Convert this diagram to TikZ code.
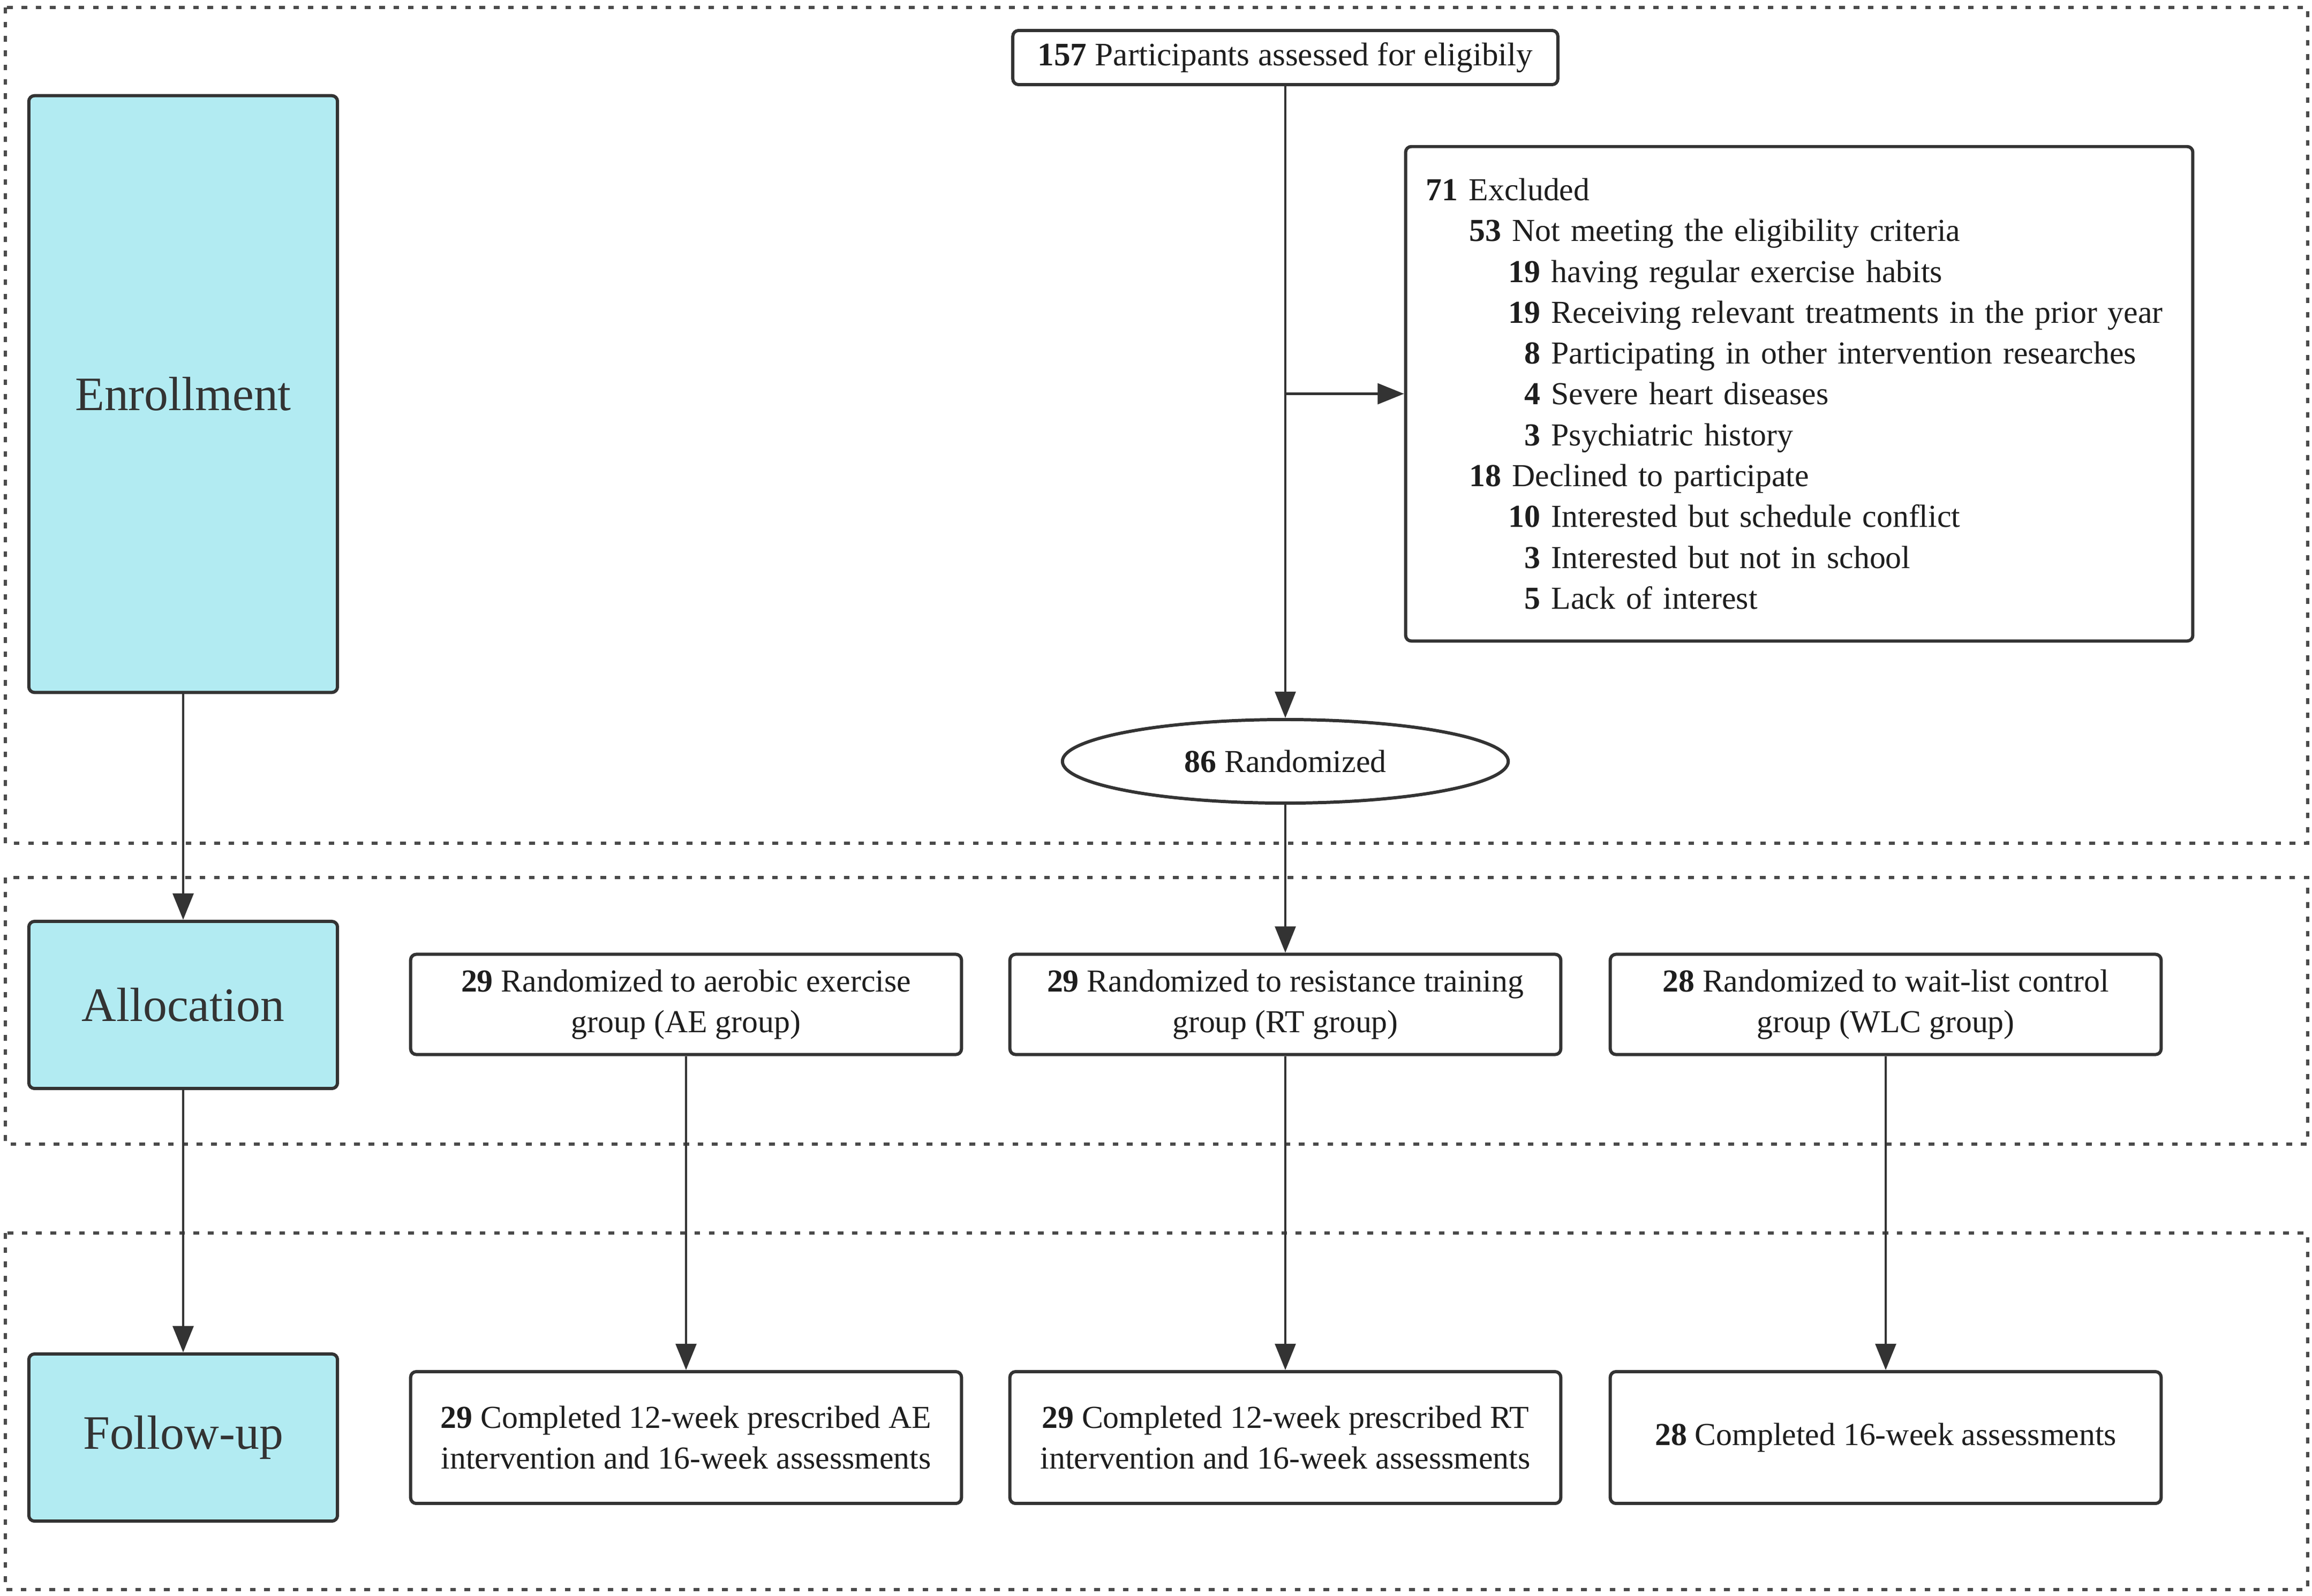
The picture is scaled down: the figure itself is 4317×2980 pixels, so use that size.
\documentclass[tikz,border=0pt]{standalone}
\usepackage{fontspec}
\setmainfont{Liberation Serif}
\usetikzlibrary{arrows.meta,shapes.geometric}
\definecolor{phasefill}{HTML}{B2EBF2}
\definecolor{edge}{HTML}{333333}
\definecolor{txt}{HTML}{1E1E1E}
\definecolor{dotc}{HTML}{4A4A4A}
\newcommand{\lvone}[2]{\makebox[0.60cm][r]{\textbf{#1}} #2}
\newcommand{\lvtwo}[2]{\makebox[1.41cm][r]{\textbf{#1}} #2}
\newcommand{\lvthree}[2]{\makebox[2.14cm][r]{\textbf{#1}} #2}
\begin{document}
\begin{tikzpicture}[x=0.01cm,y=-0.01cm,
  section/.style={draw=dotc,line width=1.8pt,dash pattern=on 3pt off 4.6pt},
  phase/.style={draw=edge,line width=1.7pt,fill=phasefill,rounded corners=3pt,
    minimum width=5.76cm,inner sep=0pt,font=\fontsize{25.5}{30}\selectfont,text=edge},
  box/.style={draw=edge,line width=1.7pt,fill=white,rounded corners=3pt,inner sep=0pt,
    align=center,font=\fontsize{17}{21.7}\selectfont,text=txt},
  conn/.style={draw=edge,line width=1.2pt,-{Triangle[length=14pt,width=11pt]}},
  line/.style={draw=edge,line width=1.2pt}]
\useasboundingbox (0,0) rectangle (4317,2980);
% sections
\draw[section] (10,14) rectangle (4309,1575);
\draw[section] (10,1639) rectangle (4309,2137);
\draw[section] (10,2303) rectangle (4309,2969);
% phase boxes
\node[phase,minimum height=11.14cm] (enr) at (342,736) {Enrollment};
\node[phase,minimum height=3.12cm] (alc) at (342,1877) {Allocation};
\node[phase,minimum height=3.12cm] (fol) at (342,2685) {Follow-up};
% enrollment
\node[box,minimum width=10.17cm,minimum height=1.01cm,font=\fontsize{17.4}{21.7}\selectfont] (top) at (2400,107.5)
  {\textbf{157} Participants assessed for eligibily};
\node[box,minimum width=14.69cm,minimum height=9.23cm,text width=13.93cm,
  inner xsep=0.38cm,align=left] (excl) at (3359.5,735.5)
  {\lvone{71}{Excluded}\\
   \lvtwo{53}{Not meeting the eligibility criteria}\\
   \lvthree{19}{having regular exercise habits}\\
   \lvthree{19}{Receiving relevant treatments in the prior year}\\
   \lvthree{8}{Participating in other intervention researches}\\
   \lvthree{4}{Severe heart diseases}\\
   \lvthree{3}{Psychiatric history}\\
   \lvtwo{18}{Declined to participate}\\
   \lvthree{10}{Interested but schedule conflict}\\
   \lvthree{3}{Interested but not in school}\\
   \lvthree{5}{Lack of interest}};
\node[box,ellipse,minimum width=8.32cm,minimum height=1.56cm] (rand) at (2400,1422)
  {\textbf{86} Randomized};
% allocation
\node[box,minimum width=10.28cm,minimum height=1.87cm] (ae) at (1281,1876)
  {\textbf{29} Randomized to aerobic exercise\\group (AE group)};
\node[box,minimum width=10.28cm,minimum height=1.87cm] (rt) at (2400,1876)
  {\textbf{29} Randomized to resistance training\\group (RT group)};
\node[box,minimum width=10.28cm,minimum height=1.87cm] (wlc) at (3521,1876)
  {\textbf{28} Randomized to wait-list control\\group (WLC group)};
% follow-up
\node[box,minimum width=10.28cm,minimum height=2.46cm] (fae) at (1281,2685)
  {\textbf{29} Completed 12-week prescribed AE\\intervention and 16-week assessments};
\node[box,minimum width=10.28cm,minimum height=2.46cm] (frt) at (2400,2685)
  {\textbf{29} Completed 12-week prescribed RT\\intervention and 16-week assessments};
\node[box,minimum width=10.28cm,minimum height=2.46cm] (fwlc) at (3521,2685)
  {\textbf{28} Completed 16-week assessments};
% connectors
\coordinate (br) at (2400,735.5);
\draw[conn] (top.south) -- (rand.north);
\draw[conn] (br) -- (excl.west);
\draw[conn] (rand.south) -- (rt.north);
\draw[conn] (ae.south) -- (fae.north);
\draw[conn] (rt.south) -- (frt.north);
\draw[conn] (wlc.south) -- (fwlc.north);
\draw[conn] (enr.south) -- (alc.north);
\draw[conn] (alc.south) -- (fol.north);
\end{tikzpicture}
\end{document}
